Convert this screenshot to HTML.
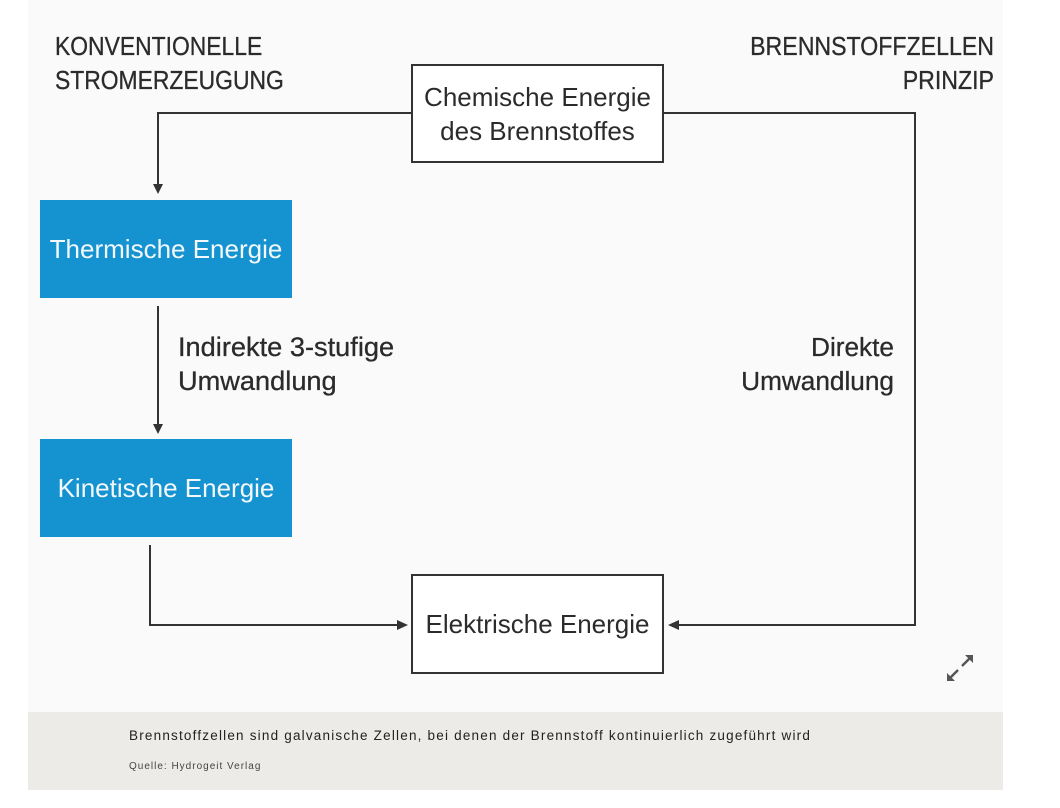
<!DOCTYPE html>
<html><head><meta charset="utf-8"><style>
html,body{margin:0;padding:0;background:#fff;width:1060px;height:808px;overflow:hidden;font-family:"Liberation Sans",sans-serif}
.bg{position:absolute;left:28px;top:0;width:975px;height:712px;background:#fafafa}
.cap{position:absolute;left:28px;top:712px;width:975px;height:78px;background:#ecebe8}
.t{position:absolute;color:#2b2b2b;font-size:26px;line-height:34px;-webkit-text-stroke:0.3px #2b2b2b}
.box{position:absolute;box-sizing:border-box;border:2px solid #333;background:#fff;display:flex;align-items:center;justify-content:center;text-align:center;font-size:26px;line-height:34px;color:#2b2b2b}
.blue{position:absolute;background:#1592d0;color:#f2f8fc;display:flex;align-items:center;justify-content:center;font-size:26px}
</style></head><body>
<div class="bg"></div>
<div class="cap"></div>
<div class="t" style="left:55px;top:29px;transform:scaleX(0.88);transform-origin:left top;">KONVENTIONELLE<br>STROMERZEUGUNG</div>
<div class="t" style="left:594px;top:29px;width:400px;text-align:right;transform:scaleX(0.89);transform-origin:right top;">BRENNSTOFFZELLEN<br>PRINZIP</div>
<svg style="position:absolute;left:0;top:0" width="1060" height="808">
<g stroke="#333" stroke-width="2" fill="none">
<polyline points="412,113 158,113 158,186"/>
<line x1="158" y1="306" x2="158" y2="426"/>
<polyline points="150,545 150,625 400,625"/>
<polyline points="663,113 915,113 915,625 676,625"/>
</g>
<g fill="#333">
<polygon points="153,184 163,184 158,194"/>
<polygon points="153,424 163,424 158,434"/>
<polygon points="397,620 397,630 408,625"/>
<polygon points="679,620 679,630 668,625"/>
</g>
<g stroke="#555" stroke-width="2.5" fill="#555">
<line x1="950" y1="678" x2="958" y2="670"/><polygon points="947,681 947,673 955,681" stroke="none"/>
<line x1="962" y1="666" x2="970" y2="658"/><polygon points="973,655 965,655 973,663" stroke="none"/>
</g>
</svg>
<div class="box" style="left:411px;top:64px;width:253px;height:99px;">Chemische Energie<br>des Brennstoffes</div>
<div class="blue" style="left:40px;top:200px;width:252px;height:98px;">Thermische Energie</div>
<div class="t" style="left:178px;top:330px;font-size:27.2px;">Indirekte 3-stufige<br>Umwandlung</div>
<div class="t" style="left:600px;top:330px;width:294px;text-align:right;font-size:26.2px;">Direkte<br>Umwandlung</div>
<div class="blue" style="left:40px;top:439px;width:252px;height:98px;">Kinetische Energie</div>
<div class="box" style="left:411px;top:574px;width:253px;height:100px;">Elektrische Energie</div>
<div style="position:absolute;left:129px;top:728px;font-size:13.5px;letter-spacing:1.2px;color:#222;white-space:nowrap;">Brennstoffzellen sind galvanische Zellen, bei denen der Brennstoff kontinuierlich zugeführt wird</div>
<div style="position:absolute;left:129px;top:761px;font-size:10px;letter-spacing:1px;color:#444;">Quelle: Hydrogeit Verlag</div>
</body></html>
